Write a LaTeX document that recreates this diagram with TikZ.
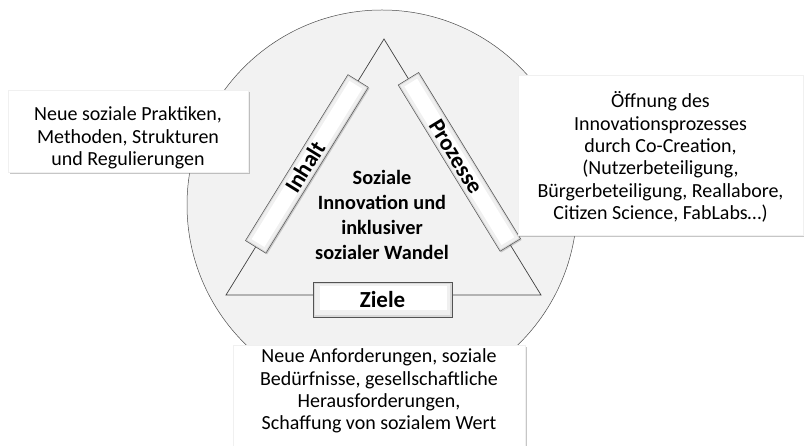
\documentclass[tikz,border=0pt]{standalone}
\usepackage{fontspec}
\setmainfont{Carlito}
\usetikzlibrary{calc,shadows}
\definecolor{circfill}{HTML}{F2F2F2}
\definecolor{lineclr}{HTML}{404040}
\begin{document}
\begin{tikzpicture}[x=1bp,y=-1bp,
  infobox/.style={fill=white, draw=gray!12, inner sep=0pt,
    drop shadow={shadow xshift=2bp, shadow yshift=-2.5bp, opacity=0.45}},
  infotext/.style={align=center, inner sep=0pt, font=\fontsize{20bp}{22.3bp}\selectfont},
  barouter/.style={draw=gray!65!black, line width=0.5bp, fill=gray!30, inner sep=0pt,
    drop shadow={shadow xshift=1.2bp, shadow yshift=-1.2bp, opacity=0.35}},
  barmid/.style={fill=gray!12, inner sep=0pt},
  barinner/.style={fill=white, inner sep=0pt},
  barlabel/.style={font=\bfseries\fontsize{23bp}{25bp}\selectfont, inner sep=0pt},
  centertext/.style={font=\bfseries\fontsize{20.3bp}{25bp}\selectfont, align=center, inner sep=0pt}
]
\useasboundingbox (0,0) rectangle (804,446);

% background circle
\node[circle, fill=circfill, draw=gray!60!black, line width=0.5bp,
      minimum size=390bp, inner sep=0pt] (circ) at (382,205) {};

% triangle
\coordinate (A) at (384,39);
\coordinate (B) at (226,295);
\coordinate (C) at (541,295);
\draw[lineclr, line width=0.7bp, line join=miter] (B) -- (A) -- (C) -- cycle;

% Inhalt bar
\coordinate (inm) at ($(A)!0.488!(B)$);
\node[barouter, rotate=58.3, minimum width=195bp, minimum height=24bp] (inhaltbar) at (inm) {};
\node[barmid, rotate=58.3, minimum width=192bp, minimum height=21bp] at (inm) {};
\node[barinner, rotate=58.3, minimum width=186bp, minimum height=15bp] at (inm) {};
\node[barlabel, rotate=58.3] (inhalt) at ($(A)!0.5!(B)$) {Inhalt};

% Prozesse bar
\coordinate (prm) at ($(A)!0.48!(C)$);
\node[barouter, rotate=-58.5, minimum width=195bp, minimum height=24bp] (prozbar) at (prm) {};
\node[barmid, rotate=-58.5, minimum width=192bp, minimum height=21bp] at (prm) {};
\node[barinner, rotate=-58.5, minimum width=186bp, minimum height=15bp] at (prm) {};
\node[barlabel, rotate=-58.5] (prozesse) at ($(A)!0.46!(C)$) {Prozesse};

% Ziele bar
\node[barouter, minimum width=139bp, minimum height=35bp] (zielebar) at (382.5,299.5) {};
\node[barmid, minimum width=135bp, minimum height=31bp] at (382.5,299.5) {};
\node[barinner, minimum width=127bp, minimum height=24bp] at (383.5,298.5) {};
\node[barlabel] (ziele) at (382.5,300) {Ziele};

% centre text
\node[centertext] (center) at (382,215) {Soziale\\Innovation und\\inklusiver\\sozialer Wandel};

% info boxes
\node[infobox, minimum width=240bp, minimum height=82bp] (leftbox) at (128,131) {};
\node[infotext] (lefttext) at (128,138)
  {Neue soziale Praktiken,\\Methoden, Strukturen\\und Regulierungen};
\node[infobox, minimum width=285bp, minimum height=160bp] (rightbox) at (660.5,155) {};
\node[infotext] (righttext) at (660.5,157)
  {Öffnung des\\Innovationsprozesses\\durch Co-Creation,\\(Nutzerbeteiligung,\\Bürgerbeteiligung, Reallabore,\\Citizen Science, FabLabs…)};
\node[infobox, minimum width=292bp, minimum height=112bp] (bottombox) at (379,401) {};
\node[infotext] (bottomtext) at (379,391)
  {Neue Anforderungen, soziale\\Bedürfnisse, gesellschaftliche\\Herausforderungen,\\Schaffung von sozialem Wert};
\end{tikzpicture}
\end{document}
